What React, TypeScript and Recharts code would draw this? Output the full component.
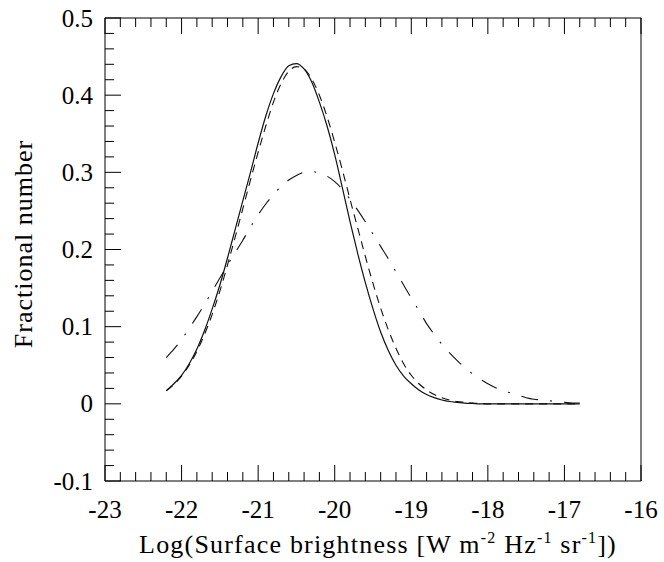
import { LineChart, Line, XAxis, YAxis } from 'recharts'

// log surface brightness, step 0.1 from -22.2 to -16.8
const logSB = [
  -22.2, -22.1, -22.0, -21.9, -21.8, -21.7, -21.6, -21.5, -21.4, -21.3,
  -21.2, -21.1, -21.0, -20.9, -20.8, -20.7, -20.6, -20.5, -20.4, -20.3,
  -20.2, -20.1, -20.0, -19.9, -19.8, -19.7, -19.6, -19.5, -19.4, -19.3,
  -19.2, -19.1, -19.0, -18.9, -18.8, -18.7, -18.6, -18.5, -18.4, -18.3,
  -18.2, -18.1, -18.0, -17.9, -17.8, -17.7, -17.6, -17.5, -17.4, -17.3,
  -17.2, -17.1, -17.0, -16.9, -16.8,
]

const solidFrac = [
  0.017, 0.026, 0.037, 0.052, 0.071, 0.095, 0.123, 0.154, 0.189, 0.226,
  0.263, 0.300, 0.338, 0.373, 0.402, 0.424, 0.438, 0.441, 0.434, 0.417,
  0.391, 0.360, 0.323, 0.280, 0.236, 0.195, 0.157, 0.123, 0.093, 0.069,
  0.050, 0.036, 0.026, 0.018, 0.012, 0.008, 0.005, 0.003, 0.002, 0.001,
  0.0005, 0, 0, 0, 0, 0, 0, 0, 0, 0,
  0, 0, 0, 0, 0,
]

const dashedFrac = [
  0.017, 0.025, 0.036, 0.050, 0.068, 0.090, 0.116, 0.146, 0.180, 0.216,
  0.253, 0.290, 0.326, 0.360, 0.391, 0.415, 0.431, 0.437, 0.434, 0.421,
  0.400, 0.372, 0.339, 0.303, 0.265, 0.228, 0.191, 0.156, 0.124, 0.096,
  0.072, 0.052, 0.037, 0.026, 0.018, 0.012, 0.008, 0.005, 0.003, 0.002,
  0.001, 0.0005, 0, 0, 0, 0, 0, 0, 0, 0,
  0, 0, 0, 0, 0,
]

const dashDotFrac = [
  0.060, 0.071, 0.083, 0.098, 0.113, 0.129, 0.146, 0.163, 0.180, 0.196,
  0.212, 0.229, 0.245, 0.259, 0.271, 0.282, 0.290, 0.296, 0.300, 0.301,
  0.299, 0.295, 0.288, 0.278, 0.265, 0.251, 0.236, 0.220, 0.204, 0.188,
  0.171, 0.154, 0.137, 0.121, 0.104, 0.090, 0.077, 0.066, 0.056, 0.047,
  0.039, 0.032, 0.026, 0.021, 0.017, 0.014, 0.011, 0.008, 0.006, 0.005,
  0.004, 0.003, 0.002, 0.001, 0.001,
]

const xMajorTicks = [-23, -22, -21, -20, -19, -18, -17, -16]
const yMajorTicks = [-0.1, 0, 0.1, 0.2, 0.3, 0.4, 0.5]

const data = logSB.map((x, i) => ({
  x,
  solid: solidFrac[i],
  dashed: dashedFrac[i],
  dashDot: dashDotFrac[i],
}))

// 5 minor intervals between major ticks
const xTicks: number[] = []
xMajorTicks.forEach((t, i) => {
  if (i === xMajorTicks.length - 1) { xTicks.push(t); return }
  for (let k = 0; k < 5; k++) xTicks.push(+(t + k * 0.2).toFixed(2))
})
const yTicks: number[] = []
yMajorTicks.forEach((t, i) => {
  if (i === yMajorTicks.length - 1) { yTicks.push(t); return }
  for (let k = 0; k < 5; k++) yTicks.push(+(t + k * 0.02).toFixed(3))
})

const FONT = '"Liberation Serif", serif'
const MAJOR = 16
const MINOR = 9

const isMajorX = (v: number) => Math.abs(v - Math.round(v)) < 1e-6
const isMajorY = (v: number) => Math.abs(v * 10 - Math.round(v * 10)) < 1e-6

function BottomTick({ x, y, payload }: any) {
  const major = isMajorX(payload.value)
  return (
    <g>
      <line x1={x} x2={x} y1={y} y2={y - (major ? MAJOR : MINOR)} stroke="#000" />
      {major && (
        <text x={x} y={y + 37} textAnchor="middle" fontFamily={FONT} fontSize={25} fill="#000">
          {payload.value}
        </text>
      )}
    </g>
  )
}

function TopTick({ x, y, payload }: any) {
  const major = isMajorX(payload.value)
  return <line x1={x} x2={x} y1={y} y2={y + (major ? MAJOR : MINOR)} stroke="#000" />
}

function LeftTick({ x, y, payload }: any) {
  const major = isMajorY(payload.value)
  return (
    <g>
      <line x1={x} x2={x + (major ? MAJOR : MINOR)} y1={y} y2={y} stroke="#000" />
      {major && (
        <text x={x - 12} y={y + 8.5} textAnchor="end" fontFamily={FONT} fontSize={25} fill="#000">
          {String(+payload.value.toFixed(1))}
        </text>
      )}
    </g>
  )
}

function RightTick({ x, y, payload }: any) {
  const major = isMajorY(payload.value)
  return <line x1={x} x2={x - (major ? MAJOR : MINOR)} y1={y} y2={y} stroke="#000" />
}

function XTitle() {
  return (
    <text x={378} y={553} textAnchor="middle" fontFamily={FONT} fontSize={26} letterSpacing={1.2} fill="#000">
      Log(Surface brightness [W m
      <tspan dy={-10} fontSize={16}>-2</tspan>
      <tspan dy={10}> Hz</tspan>
      <tspan dy={-10} fontSize={16}>-1</tspan>
      <tspan dy={10}> sr</tspan>
      <tspan dy={-10} fontSize={16}>-1</tspan>
      <tspan dy={10}>])</tspan>
    </text>
  )
}

function YTitle() {
  return (
    <text
      x={32}
      y={244}
      transform="rotate(-90, 32, 244)"
      textAnchor="middle"
      fontFamily={FONT}
      fontSize={26}
      letterSpacing={1}
      fill="#000"
    >
      Fractional number
    </text>
  )
}

export default function App() {
  return (
    <div style={{ position: 'absolute', left: 0, top: 0, background: '#fff' }}>
      <LineChart width={664} height={562} data={data} margin={{ top: 17, right: 22, bottom: 0, left: 0 }}>
        <XAxis
          dataKey="x"
          type="number"
          domain={[-23, -16]}
          ticks={xTicks}
          interval={0}
          height={81}
          tickSize={0}
          tickMargin={0}
          tickLine={false}
          axisLine={{ stroke: '#000' }}
          tick={<BottomTick />}
          label={{ content: () => <XTitle /> }}
        />
        <XAxis
          xAxisId="top"
          orientation="top"
          dataKey="x"
          type="number"
          domain={[-23, -16]}
          ticks={xTicks}
          interval={0}
          height={1}
          tickSize={0}
          tickMargin={0}
          tickLine={false}
          axisLine={{ stroke: '#000' }}
          tick={<TopTick />}
        />
        <YAxis
          type="number"
          domain={[-0.1, 0.5]}
          ticks={yTicks}
          interval={0}
          width={105}
          tickSize={0}
          tickMargin={0}
          tickLine={false}
          axisLine={{ stroke: '#000' }}
          tick={<LeftTick />}
          label={{ content: () => <YTitle /> }}
        />
        <YAxis
          yAxisId="right"
          orientation="right"
          type="number"
          domain={[-0.1, 0.5]}
          ticks={yTicks}
          interval={0}
          width={1}
          tickSize={0}
          tickMargin={0}
          tickLine={false}
          axisLine={{ stroke: '#000' }}
          tick={<RightTick />}
        />
        <Line dataKey="solid" type="monotone" stroke="#111" strokeWidth={1.2} dot={false} isAnimationActive={false} />
        <Line dataKey="dashed" type="monotone" stroke="#111" strokeWidth={1.1} strokeDasharray="8 6" dot={false} isAnimationActive={false} />
        <Line dataKey="dashDot" type="monotone" stroke="#111" strokeWidth={1.1} strokeDasharray="17 12 2 12" dot={false} isAnimationActive={false} />
      </LineChart>
    </div>
  )
}
